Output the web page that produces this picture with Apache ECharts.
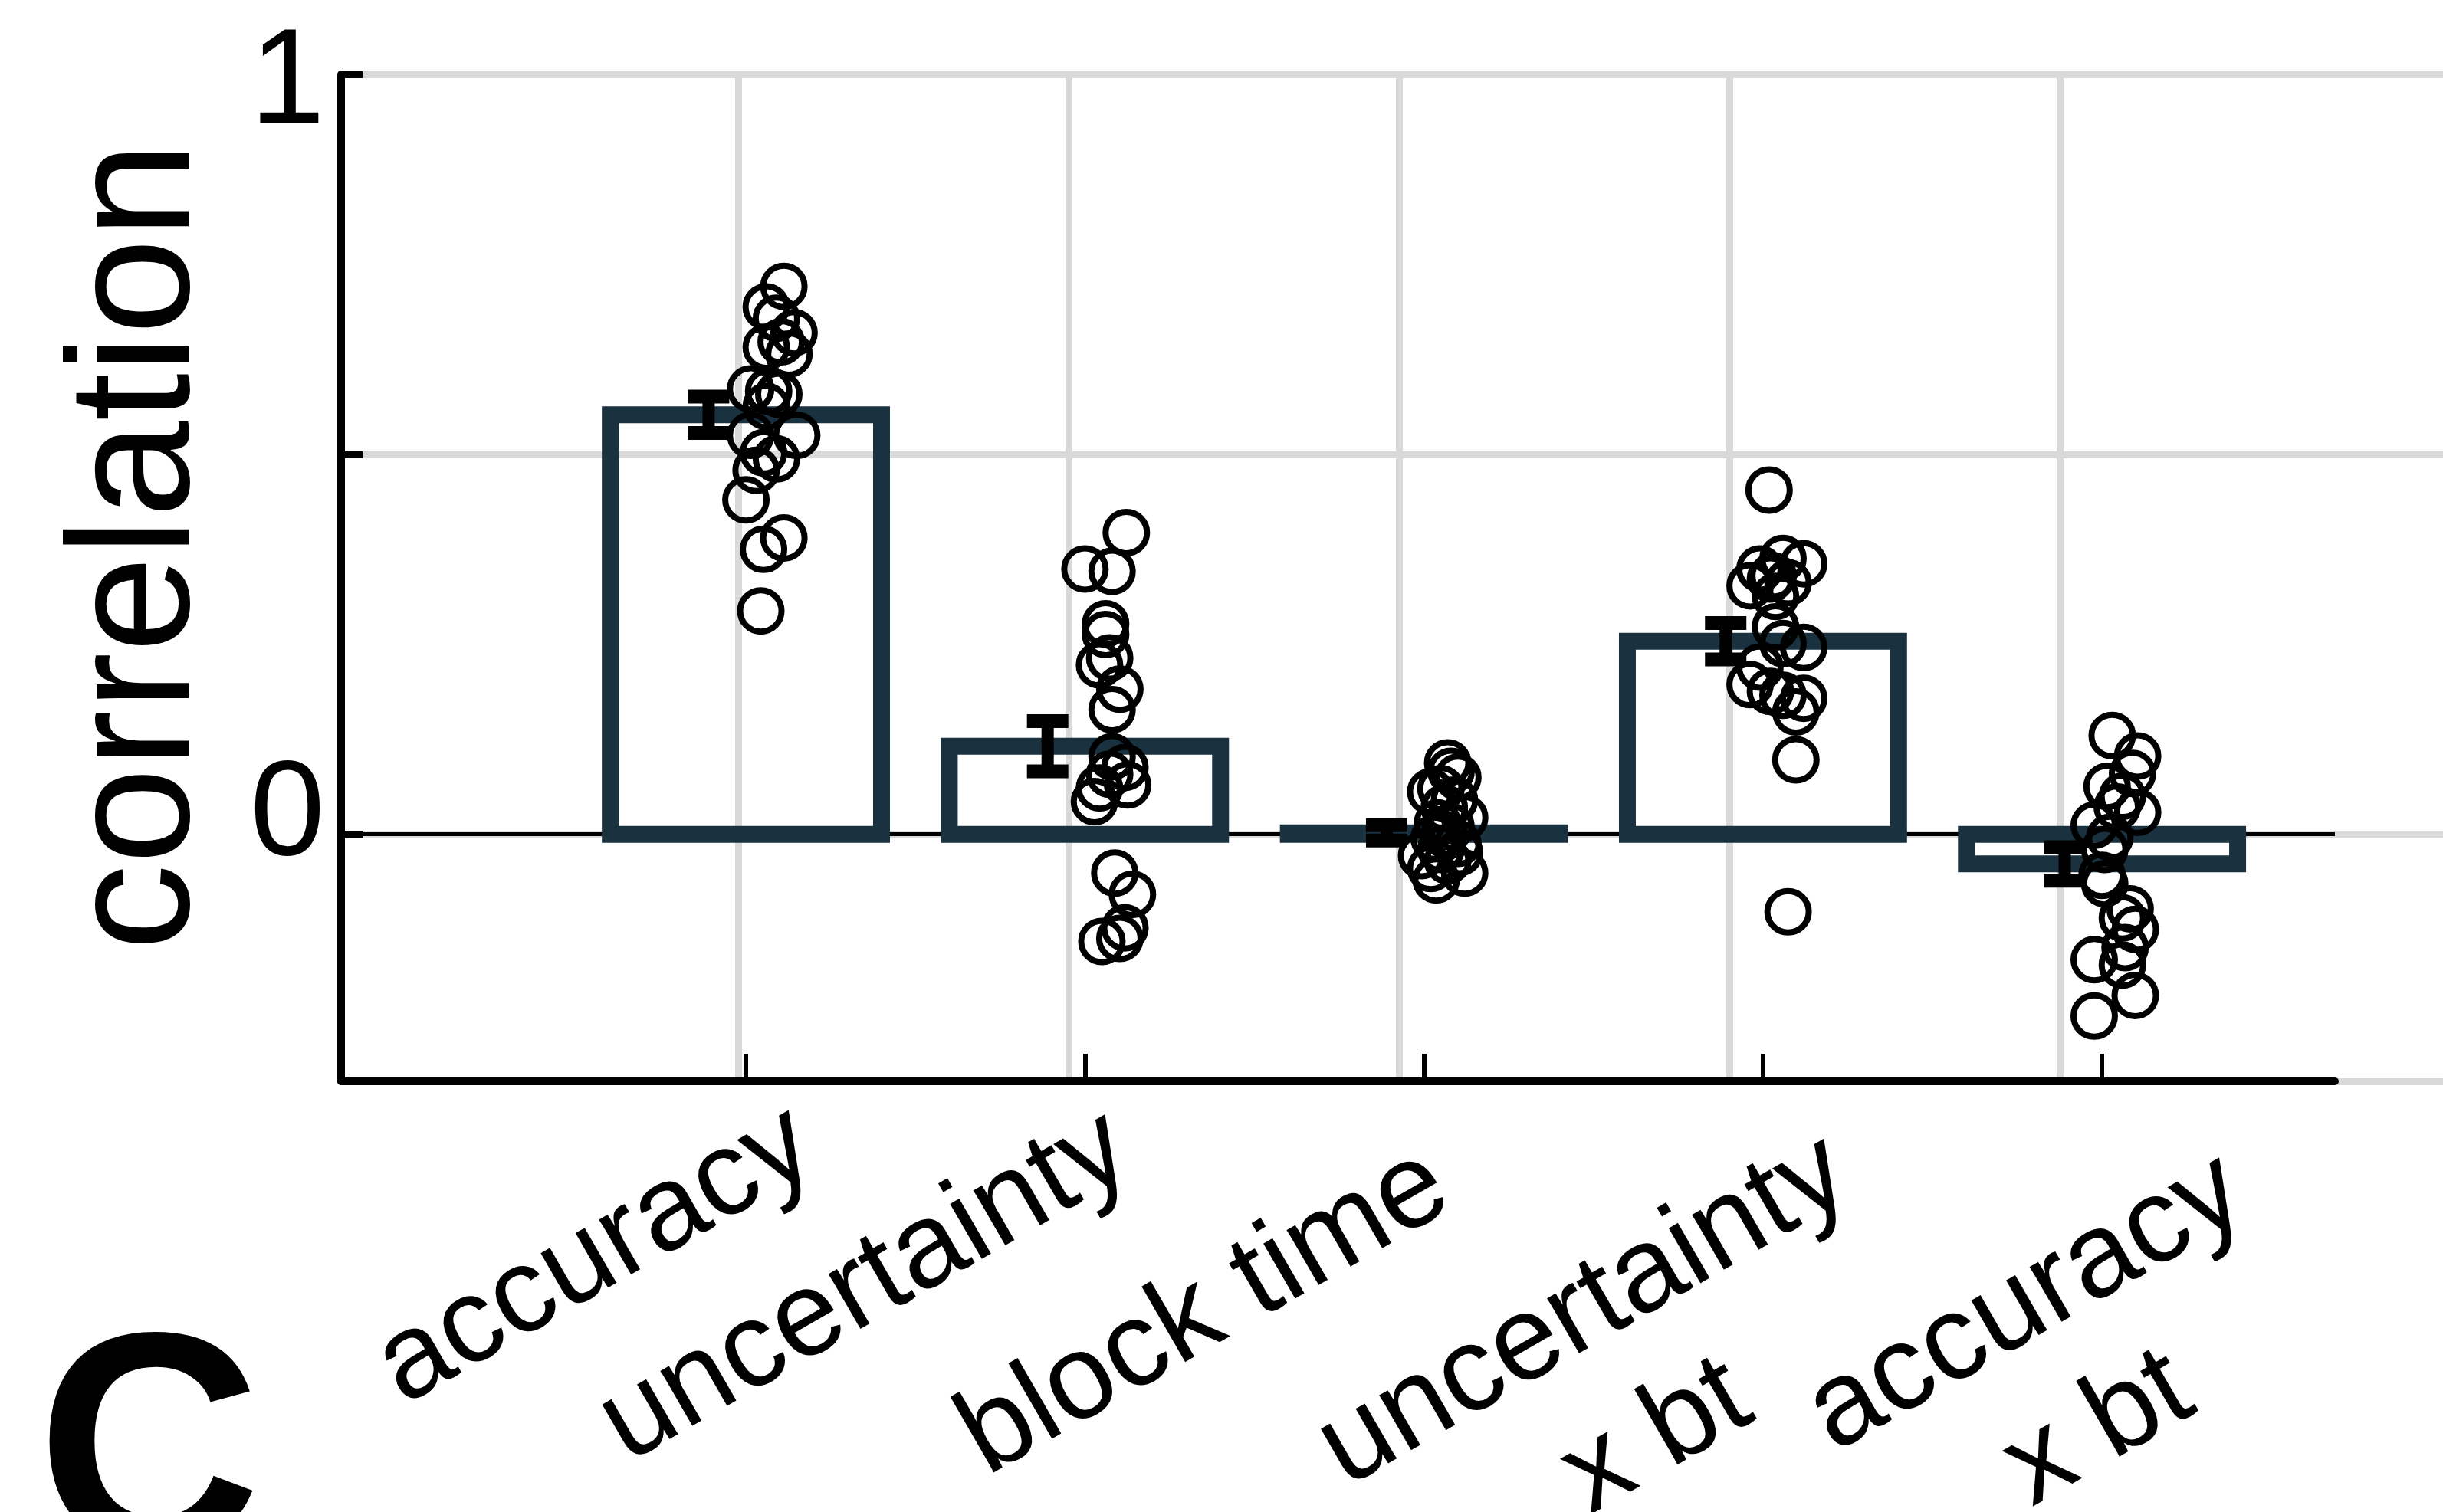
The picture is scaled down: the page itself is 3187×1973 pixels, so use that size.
<!DOCTYPE html>
<html>
<head>
<meta charset="utf-8">
<script src="https://cdn.jsdelivr.net/npm/echarts@6/dist/echarts.min.js"></script>
<style>
html, body { margin: 0; padding: 0; background: #fff; }
#chart { width: 3187px; height: 1973px; }
</style>
</head>
<body>
<div id="chart"></div>
<script>
// categories and bar values (mean correlation per regressor)
const categories = ['accuracy', 'uncertainty', 'block time', 'uncertainty\nx bt', 'accuracy\nx bt'];
const barValues = [0.552, 0.116, 0.002, 0.254, -0.039];
const semValues = [0.024, 0.033, 0.010, 0.024, 0.022];
const yTickValues = [0, 0.5, 1];
const yLabelValues = [0, 1];

// single subject correlations
const accuracyPoints = [0.721, 0.694, 0.679, 0.66, 0.648, 0.641, 0.632, 0.586, 0.583, 0.579,
    0.563, 0.525, 0.525, 0.502, 0.494, 0.479, 0.44, 0.39, 0.375, 0.294];
const uncertaintyPoints = [0.397, 0.349, 0.346, 0.277, 0.263, 0.232, 0.223, 0.191, 0.164, 0.102,
    0.088, 0.079, 0.065, 0.061, 0.043, -0.051, -0.079, -0.123, -0.137, -0.141];
const blockTimePoints = [0.094, 0.083, 0.075, 0.06, 0.056, 0.045, 0.035, 0.022, 0.015, 0.01,
    0.0, -0.005, -0.012, -0.02, -0.024, -0.028, -0.035, -0.045, -0.051, -0.06];
const uncertaintyBtPoints = [0.453, 0.363, 0.356, 0.349, 0.34, 0.336, 0.331, 0.327, 0.313, 0.273,
    0.251, 0.246, 0.22, 0.197, 0.188, 0.183, 0.179, 0.161, 0.098, -0.102];
const accuracyBtPoints = [0.13, 0.103, 0.08, 0.063, 0.05, 0.036, 0.029, 0.012, -0.004, -0.02,
    -0.054, -0.065, -0.098, -0.11, -0.125, -0.149, -0.165, -0.172, -0.212, -0.239];

// horizontal jitter of each point (x units, relative to its category)
const accuracyJitter = [0.112, 0.06, 0.09, 0.142, 0.104, 0.06, 0.127, 0.014, 0.067, 0.097,
    0.06, 0.15, 0.014, 0.052, 0.09, 0.03, 0.0, 0.112, 0.052, 0.044];
const uncertaintyJitter = [0.122, 0.0, 0.08, 0.061, 0.061, 0.073, 0.043, 0.103, 0.08, 0.08,
    0.118, 0.073, 0.126, 0.043, 0.028, 0.088, 0.14, 0.118, 0.103, 0.05];
const blockTimeJitter = [0.07, 0.08, 0.1, 0.05, 0.02, 0.09, 0.06, 0.12, 0.04, 0.08,
    0.06, 0.03, 0.1, 0.05, 0.105, -0.007, 0.07, 0.02, 0.12, 0.036];
const uncertaintyBtJitter = [0.018, 0.059, 0.12, -0.009, 0.03, 0.022, 0.074, -0.038, 0.037, 0.037,
    0.059, 0.12, -0.009, -0.038, 0.022, 0.059, 0.12, 0.097, 0.097, 0.074];
const accuracyBtJitter = [0.03, 0.105, 0.09, 0.015, 0.06, 0.045, 0.105, -0.023, 0.023, 0.008,
    0.0, 0.008, 0.083, 0.06, 0.098, 0.068, -0.023, 0.06, 0.098, -0.023];

const groupPoints = [accuracyPoints, uncertaintyPoints, blockTimePoints, uncertaintyBtPoints, accuracyBtPoints];
const groupJitter = [accuracyJitter, uncertaintyJitter, blockTimeJitter, uncertaintyBtJitter, accuracyBtJitter];

const FONT = 'Liberation Sans';
const EDGE = '#1a3240';
const GRID_GRAY = '#d9d9d9';
const ERR_SHIFT = -0.11;
const BAR_HALF = 0.4;
const LABEL_SHIFT = 0.158;
const X_MIN = -0.194, X_MAX = 5.687;
const LABEL_SIZE = 157;
const LABEL_LINE = 190;
// per label nudges of the rotated tick labels: back along the text, down across it (px)
const labelBack = [53, 82, 128, 52, 0];
const labelDown = [10, 0, 28, 54, 112];

const xPos = categories.map((c, i) => i + 1);
const barData = xPos.map((x, i) => [x, barValues[i]]);
const errData = xPos.map((x, i) => [x, barValues[i], semValues[i]]);
const pointData = [];
groupPoints.forEach((vals, gi) => {
    vals.forEach((v, k) => pointData.push([xPos[gi] + groupJitter[gi][k], v]));
});

// measure the label lines so that they can be centred / nudged inside a fixed box
const measureCtx = document.createElement('canvas').getContext('2d');
measureCtx.font = LABEL_SIZE + 'px "' + FONT + '"';
const labelRich = {};
categories.forEach((c, i) => {
    const lines = c.split('\n');
    const w = Math.max(...lines.map(l => measureCtx.measureText(l).width));
    const multi = lines.length > 1;
    labelRich['t' + i] = {
        fontSize: LABEL_SIZE, fontFamily: FONT, color: '#000', lineHeight: LABEL_LINE,
        width: Math.ceil(w + (multi ? 2 : 1) * labelBack[i]), align: multi ? 'center' : 'left'
    };
    labelRich['s' + i] = { fontSize: 1, lineHeight: labelDown[i], color: 'rgba(0,0,0,0)' };
});

// the rotated labels overlap their neighbours' boxes, so odd and even ones
// live on two label-only axes and none of them gets dropped
const labelAxis = (values) => ({
    gridIndex: 1, type: 'value', min: X_MIN - LABEL_SHIFT, max: X_MAX - LABEL_SHIFT, z: 1,
    position: 'bottom', offset: 0,
    axisLine: { show: false, onZero: false },
    axisTick: { show: false },
    splitLine: { show: false },
    axisLabel: {
        show: true, customValues: values, rotate: 30, margin: -46,
        align: 'right', verticalAlign: 'top',
        fontSize: LABEL_SIZE, fontFamily: FONT, color: '#000',
        formatter: (v) => {
            const i = Math.round(v) - 1;
            const lines = categories[i].split('\n').map(l => '{t' + i + '|' + l + '}');
            if (labelDown[i] > 0) {
                lines.unshift('{s' + i + '| }');
            }
            return lines.join('\n');
        },
        rich: labelRich
    }
});

const chart = echarts.init(document.getElementById('chart'), null, { renderer: 'canvas' });

const option = {
    backgroundColor: '#fff',
    animation: false,
    grid: [
        { left: 445, right: 0, top: 97, bottom: 562, outerBoundsMode: 'none' },
        { left: 445, right: 141, top: 97, bottom: 562, outerBoundsMode: 'none' }
    ],
    xAxis: [
        {
            gridIndex: 0, type: 'value', min: -0.202, max: 6.16, z: 0, position: 'bottom',
            axisLine: { show: true, onZero: false, lineStyle: { color: GRID_GRAY, width: 9 } },
            axisTick: { show: false, customValues: xPos },
            axisLabel: { show: false },
            splitLine: { show: true, lineStyle: { color: GRID_GRAY, width: 9 } }
        },
        {
            gridIndex: 1, type: 'value', min: X_MIN, max: X_MAX, z: 1, position: 'bottom',
            axisLine: { show: true, onZero: false, lineStyle: { color: '#000', width: 10 } },
            axisTick: { show: true, inside: true, length: 36, customValues: xPos, lineStyle: { color: '#000', width: 6 } },
            axisLabel: { show: false },
            splitLine: { show: false }
        },
        labelAxis(xPos.filter(x => x % 2 === 1)),
        labelAxis(xPos.filter(x => x % 2 === 0))
    ],
    yAxis: [
        {
            gridIndex: 0, type: 'value', min: -0.325, max: 1, z: 0,
            axisLine: { show: false },
            axisTick: { show: false, customValues: yTickValues },
            axisLabel: { show: false },
            splitLine: { show: true, lineStyle: { color: GRID_GRAY, width: 9 } }
        },
        {
            gridIndex: 1, type: 'value', min: -0.325, max: 1, z: 1,
            axisLine: { show: true, onZero: false, lineStyle: { color: '#000', width: 10 } },
            axisTick: { show: true, inside: true, length: 28, customValues: yTickValues, lineStyle: { color: '#000', width: 9 } },
            axisLabel: {
                show: true, customValues: yLabelValues, margin: 21,
                fontSize: 176, fontFamily: FONT, color: '#000',
                formatter: (v) => (v === 0 ? '{z|0}' : '{o|1}'),
                rich: {
                    z: { fontSize: 176, fontFamily: FONT, color: '#000', padding: [0, 0, 44, 0] },
                    o: { fontSize: 176, fontFamily: FONT, color: '#000', padding: [28, 0, 0, 0] }
                }
            },
            splitLine: {
                show: true,
                lineStyle: { color: ['#000', 'rgba(0,0,0,0)', 'rgba(0,0,0,0)'], width: 5 }
            }
        }
    ],
    graphic: [
        {
            type: 'text', x: 184, y: 713, rotation: Math.PI / 2,
            style: {
                text: 'correlation', font: '226px "Liberation Sans"', fill: '#000',
                align: 'center', verticalAlign: 'middle', textAlign: 'center', textVerticalAlign: 'middle'
            }
        },
        {
            type: 'text', x: 48, y: 1909,
            style: {
                text: 'C', font: 'bold 405px "Liberation Sans"', fill: '#000',
                align: 'left', verticalAlign: 'middle', textAlign: 'left', textVerticalAlign: 'middle'
            }
        }
    ],
    series: [
        {
            // outlined bars, edge centred on the bar outline
            type: 'custom', xAxisIndex: 1, yAxisIndex: 1, z: 2,
            data: barData,
            encode: { x: 0, y: 1 },
            renderItem: (params, api) => {
                const x = api.value(0);
                const v = api.value(1);
                const p0 = api.coord([x - BAR_HALF, Math.max(v, 0)]);
                const p1 = api.coord([x + BAR_HALF, Math.min(v, 0)]);
                return {
                    type: 'rect',
                    shape: { x: p0[0], y: p0[1], width: p1[0] - p0[0], height: p1[1] - p0[1] },
                    style: { fill: 'none', stroke: EDGE, lineWidth: 22 }
                };
            }
        },
        {
            type: 'custom', xAxisIndex: 1, yAxisIndex: 1, z: 3,
            data: errData,
            encode: { x: 0, y: 1 },
            renderItem: (params, api) => {
                const x = api.value(0) + ERR_SHIFT;
                const m = api.value(1);
                const s = api.value(2);
                const top = api.coord([x, m + s]);
                const bot = api.coord([x, m - s]);
                const cap = 27;
                const stroke = { stroke: '#000', lineWidth: 16 };
                const capStroke = { stroke: '#000', lineWidth: 18 };
                return {
                    type: 'group',
                    children: [
                        { type: 'line', shape: { x1: top[0], y1: top[1], x2: bot[0], y2: bot[1] }, style: stroke },
                        { type: 'line', shape: { x1: top[0] - cap, y1: top[1], x2: top[0] + cap, y2: top[1] }, style: capStroke },
                        { type: 'line', shape: { x1: bot[0] - cap, y1: bot[1], x2: bot[0] + cap, y2: bot[1] }, style: capStroke }
                    ]
                };
            }
        },
        {
            type: 'scatter', xAxisIndex: 1, yAxisIndex: 1, z: 4,
            data: pointData, symbol: 'circle', symbolSize: 54, clip: false,
            itemStyle: { color: 'rgba(0,0,0,0)', borderColor: '#000', borderWidth: 8, opacity: 1 },
            emphasis: { disabled: true }
        }
    ]
};

chart.setOption(option);
</script>
</body>
</html>
